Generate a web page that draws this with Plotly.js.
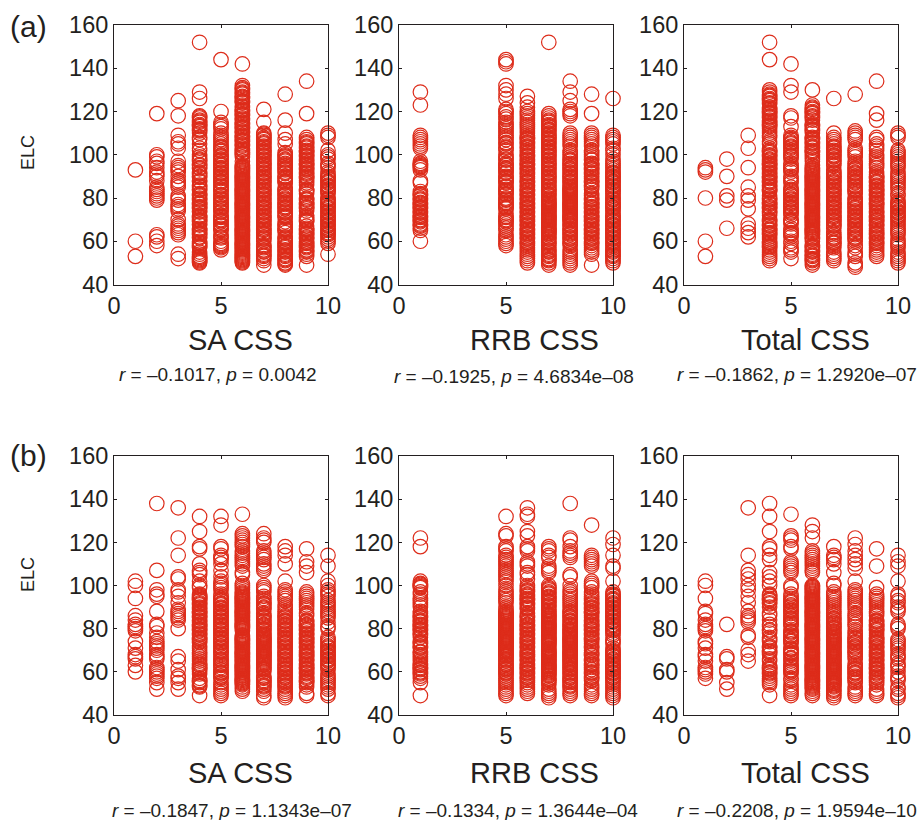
<!DOCTYPE html>
<html><head><meta charset="utf-8">
<script src="https://cdn.plot.ly/plotly-3.0.1.min.js"></script>
<style>html,body{margin:0;padding:0;background:#fff}</style></head>
<body><div id="chart" style="width:919px;height:820px"></div>
<script>
const aSaX=[1,2,3,4,5,6,7,8,9,10];
const aSaY=[
[93,60,53],
[119,100,99,97,96,94,92,91,90,88,85,84,83,82,81,80,79,63,62,60,58],
[125,118,109,106,105,103,97,95,94,93,92,90,88,87,86,85,81,80,79,77,76,75,74,70,68,67,66,65,64,63,54,52],
[152,129,126,118,117,116,115,114,113,112,111,110,108,107,105,103,102,100,99,98,97,95,94,92,91,90,88,86,85,84,82,81,80,79,78,77,76,75,74,72,71,70,69,68,66,65,64,63,62,60,59,58,57,55,54,53,52,51,50,
 117.5,115.5,113.5,111.5,97.5,95.5,93.5,91.5,89.5,87.5,85.5,83.5,81.5,79.5,77.5,75.5,73.5,71.5,69.5,67.5,65.5,63.5,61.5,59.5,57.5,52.5,51.5,50.5],
[144,120,115,114,113,112,110,109,108,107,106,105,104,103,102,100,99,98,97,96,95,94,93,92,91,90,89,88,87,86,85,84,83,81,80,79,78,77,76,75,74,72,71,70,69,68,67,66,65,63,62,60,59,58,57,56,
 103.5,101.5,99.5,97.5,95.5,93.5,91.5,89.5,87.5,85.5,83.5,81.5,79.5,77.5,75.5,73.5,71.5,69.5,67.5,65.5,61.5,58.5,57.5],
[142,132,131,130,129,128,127,126,125,124,122,121,120,119,118,117,116,115,114,113,112,111,110,109,108,107,106,105,104,103,102,101,100,99,97,95,94,93,92,91,90,89,88,87,86,85,84,83,82,81,80,79,78,77,76,75,74,73,72,71,70,69,68,67,66,65,64,63,62,61,60,59,58,57,56,55,54,53,52,51,50,
 130.5,128.5,126.5,124.5,122.5,120.5,118.5,116.5,114.5,112.5,110.5,108.5,106.5,104.5,102.5,100.5,94.5,93.5,92.5,91.5,90.5,89.5,88.5,87.5,86.5,85.5,84.5,83.5,82.5,81.5,80.5,79.5,78.5,77.5,76.5,75.5,74.5,73.5,72.5,71.5,70.5,69.5,68.5,67.5,66.5,65.5,64.5,63.5,62.5,61.5,60.5,59.5,58.5,57.5,56.5,55.5,54.5,53.5,52.5,51.5,50.5],
[121,115,110,109,108,107,106,105,104,103,102,101,100,99,98,97,96,95,94,93,92,91,90,89,88,87,86,85,84,83,82,81,80,79,78,77,76,75,74,73,72,71,70,69,68,67,66,65,64,63,62,61,60,58,57,56,55,54,53,52,51,49,
 109.5,107.5,105.5,103.5,101.5,99.5,97.5,95.5,93.5,91.5,89.5,87.5,85.5,83.5,81.5,79.5,77.5,75.5,73.5,71.5,69.5,67.5,65.5,63.5,61.5,57.5,55.5,53.5],
[128,116,110,107,105,101,100,99,98,97,96,95,94,93,92,90,89,88,87,85,84,83,82,81,80,79,78,77,76,75,74,73,72,71,69,68,67,66,65,64,62,61,60,59,58,57,56,55,54,53,52,51,50,49,
 99.5,97.5,95.5,93.5,91.5,89.5,87.5,83.5,81.5,79.5,77.5,75.5,73.5,71.5,67.5,65.5,61.5,59.5,57.5,55.5,53.5,51.5,49.5],
[134,119,108,107,106,105,104,103,102,101,100,99,98,97,96,95,94,93,92,91,90,89,88,87,86,84,83,82,80,79,78,77,76,75,74,72,71,70,69,67,66,65,64,63,62,61,60,59,58,57,56,55,54,53,49,
 105.5,103.5,101.5,99.5,97.5,95.5,93.5,91.5,89.5,83.5,79.5,77.5,75.5,69.5,65.5,63.5,61.5,59.5,57.5,55.5],
[110,109,108,102,100,99,98,96,95,94,92,91,90,89,88,87,86,85,84,83,82,80,79,78,77,76,75,74,73,72,71,70,69,68,67,66,65,64,63,62,61,60,59,54,
 89.5,87.5,85.5,83.5,79.5,77.5,75.5,73.5,71.5,69.5,67.5,65.5,63.5]];
const aRrbX=[1,5,6,7,8,9,10];
const aRrbY=[
[129,123,109,108,107,106,105,104,103,97,96,95,94,93,88,87,83,82,81,80,79,78,77,76,75,74,73,72,71,70,69,68,67,66,65,60,95.5,94.5,81.5,79.5,77.5,75.5,73.5,71.5,69.5,67.5],
[144,143,142,132,130,128,126,121,120,119,115,114,113,112,111,110,109,108,107,105,103,102,100,99,98,96,95,94,93,92,90,89,88,87,85,84,83,82,80,79,78,77,76,75,73,71,70,69,68,67,66,65,63,62,61,60,59,58,
 117.5,116.5,105.5,103.5,97.5,95.5,93.5,91.5,89.5,87.5,85.5,83.5,81.5,79.5,77.5,75.5,71.5,69.5],
[127,124,122,120,119,118,117,116,115,114,113,112,111,110,109,108,107,106,105,104,103,102,101,100,99,98,97,96,95,94,93,92,91,90,89,88,87,86,85,84,83,82,81,80,79,78,77,76,75,74,73,72,71,70,69,68,67,66,65,64,63,62,61,60,59,58,57,56,55,54,53,52,51,50,
 107.5,105.5,103.5,99.5,97.5,95.5,93.5,91.5,87.5,85.5,83.5,81.5,79.5,77.5,75.5,73.5,71.5,69.5,67.5,65.5,63.5,61.5,59.5],
[152,119,118,117,116,115,114,113,112,111,110,109,108,107,106,105,104,103,102,101,100,99,98,97,96,95,94,93,92,91,90,89,88,87,86,85,84,83,82,81,80,79,78,77,76,75,74,73,72,71,70,69,68,67,66,65,64,63,62,61,60,59,58,57,56,55,54,53,52,51,50,49,
 115.5,113.5,111.5,109.5,107.5,105.5,103.5,101.5,99.5,97.5,95.5,93.5,91.5,89.5,87.5,85.5,83.5,81.5,79.5,78.5,77.5,76.5,75.5,74.5,73.5,72.5,71.5,70.5,69.5,68.5,67.5,66.5,65.5,64.5,63.5,61.5,59.5,55.5,53.5,51.5],
[134,129,125,121,120,119,118,110,109,108,107,106,105,104,102,101,100,99,98,97,96,95,94,93,92,91,90,89,88,87,86,85,84,83,82,81,80,79,78,77,76,75,74,73,72,71,70,69,68,67,66,65,64,63,62,61,60,59,58,56,55,54,53,52,51,50,49,
 97.5,95.5,93.5,91.5,89.5,87.5,85.5,84.5,83.5,82.5,81.5,80.5,79.5,78.5,77.5,76.5,75.5,74.5,73.5,72.5,71.5,70.5,69.5,67.5,65.5,63.5,61.5,59.5],
[128,119,110,109,108,107,106,105,104,102,101,100,99,98,96,95,94,93,92,91,90,89,88,87,86,85,84,82,81,80,79,78,77,76,75,74,73,72,71,70,69,68,67,66,65,64,63,62,61,60,59,58,57,56,55,54,49,
 97.5,95.5,93.5,91.5,87.5,85.5,79.5,77.5,75.5,73.5,71.5,69.5,67.5,65.5,63.5,61.5,59.5],
[126,109,108,107,106,105,103,102,100,98,97,96,95,94,93,92,91,90,89,88,87,86,85,84,83,82,81,80,79,78,77,76,75,74,73,72,71,70,69,68,67,66,65,64,63,62,61,60,59,58,57,56,55,54,53,52,51,50,
 91.5,89.5,87.5,85.5,83.5,79.5,77.5,75.5,71.5,69.5,67.5,65.5,63.5,61.5,59.5,55.5,53.5]];
const aTotX=[1,2,3,4,5,6,7,8,9,10];
const aTotY=[
[94,93,92,80,60,53],
[98,90,81,79,66],
[109,103,94,85,81,79,75,68,66,64,62],
[152,144,130,129,128,127,126,125,124,122,121,120,119,118,117,116,115,114,113,112,111,110,109,108,106,105,103,102,101,100,99,98,97,96,95,94,93,92,91,90,89,88,87,86,85,84,83,81,80,79,78,77,76,75,74,73,72,70,69,68,67,66,65,64,63,62,61,60,59,58,57,56,55,54,53,52,51,
 127.5,125.5,123.5,121.5,119.5,117.5,115.5,113.5,101.5,99.5,97.5,95.5,93.5,91.5,89.5,87.5,85.5,83.5,79.5,77.5,75.5,73.5,69.5,67.5,65.5,63.5,59.5,57.5],
[142,132,129,118,117,113,109,108,107,106,105,104,103,102,101,100,99,98,96,95,94,93,92,90,89,88,87,85,84,83,82,81,80,79,78,77,76,75,74,73,72,70,69,68,66,65,64,63,62,60,59,57,56,55,52,
 107.5,105.5,103.5,99.5,93.5,83.5,81.5,79.5,77.5,75.5,73.5,69.5,63.5],
[130,123,122,121,120,119,118,117,116,114,113,112,111,110,108,107,106,105,104,103,102,101,100,99,98,97,95,94,93,92,91,90,89,88,87,86,85,84,83,82,81,80,79,78,77,76,75,74,73,72,71,70,69,68,67,66,65,64,63,62,61,60,58,57,56,55,54,53,52,51,50,49,
 121.5,119.5,117.5,113.5,111.5,107.5,105.5,103.5,101.5,93.5,92.5,91.5,90.5,89.5,88.5,87.5,86.5,85.5,84.5,83.5,82.5,81.5,80.5,79.5,78.5,77.5,76.5,75.5,74.5,73.5,72.5,71.5,70.5,69.5,68.5,67.5,66.5,65.5,64.5,63.5,61.5,57.5,55.5,53.5,51.5],
[126,110,108,107,106,105,104,103,102,101,100,99,98,97,96,95,93,92,91,90,89,88,87,86,85,84,83,82,81,80,79,78,77,76,75,74,73,72,71,70,69,68,67,66,64,63,62,61,60,59,58,57,55,54,53,52,51,
 103.5,101.5,99.5,97.5,91.5,89.5,87.5,85.5,83.5,81.5,79.5,77.5,75.5,73.5,71.5,69.5,67.5,61.5,59.5],
[128,111,110,109,108,107,103,102,101,100,99,97,96,95,94,93,92,91,90,89,88,87,86,85,84,83,82,80,79,78,77,76,75,74,73,72,71,70,69,68,67,66,65,64,63,62,61,60,58,57,55,54,53,50,49,48,
 93.5,91.5,89.5,87.5,85.5,83.5,79.5,77.5,75.5,73.5,71.5,69.5,67.5,65.5,63.5,61.5],
[134,119,116,108,107,105,104,103,102,100,99,98,97,96,95,94,92,91,90,89,88,87,86,85,84,83,82,81,80,79,78,77,76,75,74,73,72,71,70,69,68,67,66,65,64,63,62,61,60,59,58,57,56,55,54,53,
 89.5,87.5,85.5,83.5,81.5,79.5,77.5,73.5,71.5,69.5,67.5,63.5,61.5,59.5],
[110,109,108,102,101,100,99,98,97,96,95,94,92,91,90,89,88,87,86,85,84,82,81,79,78,77,76,75,74,73,72,71,70,69,68,67,66,65,64,63,61,60,59,58,57,55,54,53,52,51,50,
 77.5,75.5,73.5,71.5]];
const bSaX=[1,2,3,4,5,6,7,8,9,10];
const bSaY=[
[102,100,94,86,84,82,81,80,79,74,71,68,67,66,63,60],
[138,107,98,96,95,88,82,81,78,76,74,73,72,71,70,68,67,66,62,61,60,59,58,57,55,52],
[136,122,114,104,103,98,97,95,92,89,88,87,86,85,84,80,67,65,61,58,57,55,52],
[132,125,118,117,110,107,106,105,102,100,99,96,95,94,93,92,91,90,89,88,87,86,85,84,83,82,81,80,79,78,77,76,75,74,72,71,70,69,68,67,66,65,64,63,62,61,60,59,57,56,55,54,53,49,
 95.5,94.5,93.5,91.5,89.5,87.5,85.5,83.5,81.5,79.5,77.5,75.5,73.5,63.5,61.5,55.5,53.5],
[132,128,118,117,114,113,112,110,107,104,102,101,100,99,98,96,95,94,93,92,91,90,89,88,87,86,85,84,83,82,81,80,79,78,77,76,75,74,73,72,71,70,69,68,67,66,65,64,63,62,61,60,59,58,57,55,54,53,52,51,50,49,
 93.5,91.5,89.5,87.5,85.5,83.5,81.5,79.5,77.5,75.5,73.5,71.5,69.5,65.5,63.5,59.5,57.5],
[133,124,123,122,121,120,119,118,116,115,114,113,112,111,110,109,106,105,101,100,99,98,97,96,95,94,93,92,91,90,89,88,87,86,85,84,83,82,81,80,79,77,76,75,74,73,72,71,70,69,68,67,66,65,64,63,62,61,60,59,58,57,56,55,54,53,52,51,
 96.5,95.5,94.5,93.5,92.5,91.5,90.5,89.5,88.5,87.5,86.5,85.5,84.5,83.5,82.5,81.5,80.5,76.5,75.5,74.5,73.5,72.5,71.5,70.5,69.5,68.5,67.5,66.5,65.5,64.5,63.5,62.5,61.5,60.5,59.5,58.5,57.5,56.5,55.5,54.5],
[124,122,121,120,116,115,114,113,112,110,109,108,107,100,99,98,97,95,94,93,92,91,90,89,87,86,85,84,83,82,81,80,79,78,77,76,75,74,73,72,71,70,69,68,67,66,65,64,63,62,61,60,58,57,56,55,54,53,52,51,49,48,
 91.5,89.5,85.5,83.5,81.5,79.5,77.5,76.5,75.5,74.5,73.5,72.5,71.5,70.5,69.5,68.5,67.5,66.5,65.5,64.5,63.5,61.5,57.5,55.5,53.5],
[118,116,114,110,102,98,97,96,95,94,93,91,90,89,88,87,86,85,84,83,82,81,80,79,78,77,76,75,74,73,72,71,70,69,68,67,66,65,64,63,62,61,60,59,58,57,56,55,54,53,52,51,50,49,48,
 85.5,83.5,81.5,79.5,77.5,75.5,73.5,71.5,69.5,67.5,65.5,63.5,61.5,59.5,57.5,55.5,53.5],
[117,111,109,106,97,96,95,94,93,92,91,90,89,87,86,84,83,82,81,80,79,78,77,76,75,74,73,72,71,70,69,68,67,66,65,64,63,62,61,60,59,58,57,56,55,54,53,50,49,
 83.5,81.5,79.5,77.5,75.5,73.5,71.5,69.5,67.5,65.5,63.5,61.5,59.5,57.5,55.5],
[114,109,102,100,98,97,96,95,93,92,91,90,89,88,87,86,85,83,81,80,76,75,74,73,72,71,70,69,68,67,66,65,64,63,62,61,59,58,57,56,55,54,53,52,50,49,
 71.5,69.5,67.5,65.5,63.5]];
const bRrbX=[1,5,6,7,8,9,10];
const bRrbY=[
[122,118,102,101,100,99,97,96,94,93,92,91,90,88,87,86,85,84,83,82,81,80,79,78,77,76,74,73,72,71,69,68,67,66,65,64,63,62,61,60,59,58,57,55,49,
 100.5,99.5,85.5,83.5,81.5,79.5,77.5,73.5,71.5,69.5,63.5,61.5,59.5],
[132,124,123,118,117,116,114,113,112,111,110,109,108,107,106,105,104,103,102,100,98,97,96,95,94,93,92,90,89,88,87,86,85,84,83,82,81,80,79,78,77,76,75,74,73,72,71,70,69,68,67,66,65,64,63,62,61,60,59,58,57,56,55,54,53,52,51,50,49,
 87.5,86.5,85.5,84.5,83.5,82.5,81.5,80.5,79.5,78.5,77.5,76.5,75.5,74.5,73.5,72.5,71.5,70.5,69.5,68.5,67.5,65.5,63.5,61.5,59.5],
[136,133,132,125,123,118,117,116,111,110,109,106,105,103,100,99,98,97,96,95,94,93,92,91,90,89,87,86,85,84,83,82,81,80,79,78,77,76,75,74,73,72,71,70,69,68,67,66,65,64,63,62,61,60,59,58,57,56,55,54,53,52,51,50,
 97.5,95.5,93.5,91.5,89.5,85.5,83.5,81.5,79.5,77.5,75.5,73.5,71.5,69.5,67.5,65.5,63.5,61.5,59.5,57.5],
[118,117,116,114,113,109,108,107,106,100,99,98,97,96,95,94,93,92,91,90,89,88,87,86,85,84,83,82,81,80,79,78,77,76,75,74,73,72,71,70,69,68,67,66,65,64,63,62,61,60,59,58,57,56,55,54,52,51,50,49,48,
 98.5,96.5,94.5,92.5,90.5,88.5,86.5,85.5,84.5,83.5,82.5,81.5,80.5,79.5,78.5,77.5,76.5,75.5,74.5,73.5,72.5,70.5,69.5,68.5,67.5,66.5,65.5,64.5,63.5,62.5,61.5,60.5,59.5,58.5,56.5],
[138,122,121,118,116,115,114,113,105,104,100,98,97,96,95,94,93,92,91,90,89,88,87,86,85,84,83,82,81,80,79,78,77,76,75,74,73,72,71,70,69,68,67,66,65,64,63,62,61,60,59,58,57,56,55,54,53,52,51,50,49,
 87.5,85.5,83.5,81.5,79.5,78.5,77.5,76.5,75.5,74.5,73.5,72.5,71.5,70.5,69.5,68.5,67.5,66.5,65.5,64.5,63.5,61.5,59.5,57.5,55.5,53.5],
[128,114,113,112,111,110,109,102,101,100,99,97,96,95,94,93,92,91,90,89,88,87,86,85,84,83,82,81,80,79,78,77,76,75,74,73,72,71,70,69,68,66,65,64,63,62,61,60,59,58,57,56,54,53,52,51,50,49,
 91.5,89.5,87.5,83.5,81.5,79.5,77.5,75.5,71.5,67.5,65.5,63.5,59.5,57.5],
[122,119,114,109,108,102,97,96,95,94,93,92,91,90,89,88,87,86,85,84,83,82,81,80,79,78,77,75,74,73,71,70,69,68,67,66,65,64,63,62,61,60,59,58,57,56,55,54,53,52,51,50,49,48,
 95.5,93.5,91.5,89.5,87.5,85.5,83.5,81.5,79.5,69.5,67.5,65.5,63.5,61.5,59.5,57.5]];
const bTotX=[1,2,3,4,5,6,7,8,9,10];
const bTotY=[
[102,100,94,88,87,84,82,81,80,79,74,73,71,68,67,65,62,61,60,59,57],
[82,67,66,61,60,55,52],
[136,114,107,105,103,100,98,95,92,88,86,85,84,83,77,76,70,68,65],
[138,132,125,118,117,114,112,106,104,102,100,96,95,94,93,92,90,87,86,84,82,81,79,78,76,75,74,72,71,70,69,68,66,65,63,62,61,60,59,58,57,56,55,54,49,
 95.5,93.5,91.5,79.5,71.5,69.5,61.5,59.5],
[133,123,122,121,118,117,111,110,109,108,107,106,100,99,96,95,94,93,92,91,90,89,88,87,86,85,84,83,82,81,79,78,77,76,75,74,73,71,70,69,68,66,65,64,63,62,61,60,59,57,56,54,53,52,51,50,49,
 92.5,90.5,88.5,84.5,82.5,78.5,76.5,74.5,70.5,68.5,66.5,62.5,60.5],
[128,125,122,116,115,114,113,112,111,110,109,108,107,106,100,99,98,97,96,95,94,93,92,91,90,89,88,87,86,85,84,83,82,81,80,79,78,77,76,75,74,73,72,71,70,69,68,67,66,65,64,63,62,61,60,59,58,57,56,55,54,53,52,51,50,49,
 99.5,98.5,97.5,96.5,95.5,94.5,93.5,92.5,91.5,90.5,89.5,88.5,87.5,86.5,85.5,84.5,83.5,82.5,81.5,80.5,79.5,78.5,77.5,76.5,75.5,74.5,73.5,72.5,71.5,70.5,69.5,68.5,67.5,66.5,65.5,64.5,63.5,62.5,61.5,60.5,59.5,58.5,57.5,56.5,55.5,54.5,53.5,52.5],
[118,114,113,112,110,106,101,100,97,96,95,94,93,92,91,90,89,88,87,86,85,84,83,82,81,80,79,78,77,76,75,74,73,72,71,70,69,68,67,66,65,64,63,62,61,60,59,58,57,56,55,54,53,52,51,50,49,48,
 84.5,82.5,80.5,78.5,77.5,76.5,75.5,74.5,73.5,72.5,71.5,70.5,69.5,68.5,67.5,66.5,65.5,64.5,63.5,62.5,61.5,60.5,59.5,58.5,57.5,56.5,55.5,54.5,53.5,51.5],
[122,119,116,114,112,110,108,102,98,97,96,95,94,93,92,91,90,89,87,86,85,84,83,82,81,79,78,77,76,75,74,73,72,71,70,69,68,67,66,64,63,62,61,60,59,58,57,56,55,53,52,51,50,49,
 75.5,73.5,71.5,69.5,61.5,59.5,57.5],
[117,109,99,96,95,94,93,92,91,90,89,88,87,86,84,83,82,81,80,79,78,77,76,75,74,73,72,71,70,69,68,67,66,65,64,63,62,61,60,59,58,57,56,55,54,52,51,50,49,
 83.5,81.5,79.5,75.5,73.5,71.5,69.5,67.5,65.5,63.5,61.5,59.5,57.5],
[114,111,109,102,96,95,93,92,90,89,88,82,81,80,75,74,73,72,71,70,68,67,66,64,63,62,60,58,57,56,53,52,50,49,48]];

const panelX=[aSaX,aRrbX,aTotX,bSaX,bRrbX,bTotX];
const panelY=[aSaY,aRrbY,aTotY,bSaY,bRrbY,bTotY];
const xLabels=["SA CSS","RRB CSS","Total CSS","SA CSS","RRB CSS","Total CSS"];
const captions=[
"<i>r</i> = –0.1017, <i>p</i> = 0.0042","<i>r</i> = –0.1925, <i>p</i> = 4.6834e–08","<i>r</i> = –0.1862, <i>p</i> = 1.2920e–07",
"<i>r</i> = –0.1847, <i>p</i> = 1.1343e–07","<i>r</i> = –0.1334, <i>p</i> = 1.3644e–04","<i>r</i> = –0.2208, <i>p</i> = 1.9594e–10"];
const xTicks=[0,5,10], yTicks=[40,60,80,100,120,140,160];
const capX=[218,514,797,232,518,797], capY=[375,377,375,810,810,810];
const titleX=[240,534,805,240,534,805], titleY=[340,340,340,773,773,773];

const W=919,H=820,F='"Liberation Sans",Arial,sans-serif',INK='#231f20',RED='#dd2c1a';
const lefts=[114,399,684], pw=214;
const rows=[[25,284.5],[456,715]];
const traces=[],layout={width:W,height:H,margin:{l:0,r:0,t:0,b:0},showlegend:false,paper_bgcolor:'#fff',plot_bgcolor:'#fff',
 font:{family:F,color:INK},annotations:[]};
const note=(x,y,text,size,extra)=>layout.annotations.push(Object.assign({xref:'paper',yref:'paper',x:x/W,y:1-y/H,text:text,showarrow:false,xanchor:'center',yanchor:'middle',font:{size:size,family:F,color:INK}},extra||{}));
panelY.forEach((cols,i)=>{
 const c=i%3,r=Math.floor(i/3),sfx=i+1;
 const xs=[],ys=[];
 cols.forEach((col,k)=>col.forEach(v=>{xs.push(panelX[i][k]);ys.push(v);}));
 traces.push({type:'scatter',mode:'markers',x:xs,y:ys,xaxis:'x'+sfx,yaxis:'y'+sfx,cliponaxis:false,
  marker:{symbol:'circle-open',size:14.5,color:RED,line:{color:RED,width:1.2}}});
 const common={linecolor:INK,linewidth:1,mirror:'allticks',ticks:'inside',ticklen:3,tickcolor:INK,showgrid:false,zeroline:false,
  tickfont:{size:23.5,family:F,color:INK},fixedrange:true};
 layout['xaxis'+sfx]=Object.assign({},common,{domain:[lefts[c]/W,(lefts[c]+pw)/W],range:[0,10],tickmode:'array',tickvals:xTicks,ticktext:xTicks.map(String),anchor:'y'+sfx});
 layout['yaxis'+sfx]=Object.assign({},common,{domain:[1-rows[r][1]/H,1-rows[r][0]/H],range:[40,160],tickmode:'array',tickvals:yTicks,ticktext:yTicks.map(String),anchor:'x'+sfx});
 note(titleX[i],titleY[i],xLabels[i],29);
 note(capX[i],capY[i],captions[i],19);
});
note(28,26,"(a)",30);
note(28,455,"(b)",30);
note(28,153,"ELC",18,{textangle:-90});
note(28,575,"ELC",18,{textangle:-90});
Plotly.newPlot('chart',traces,layout,{displayModeBar:false,staticPlot:true});
</script></body></html>
